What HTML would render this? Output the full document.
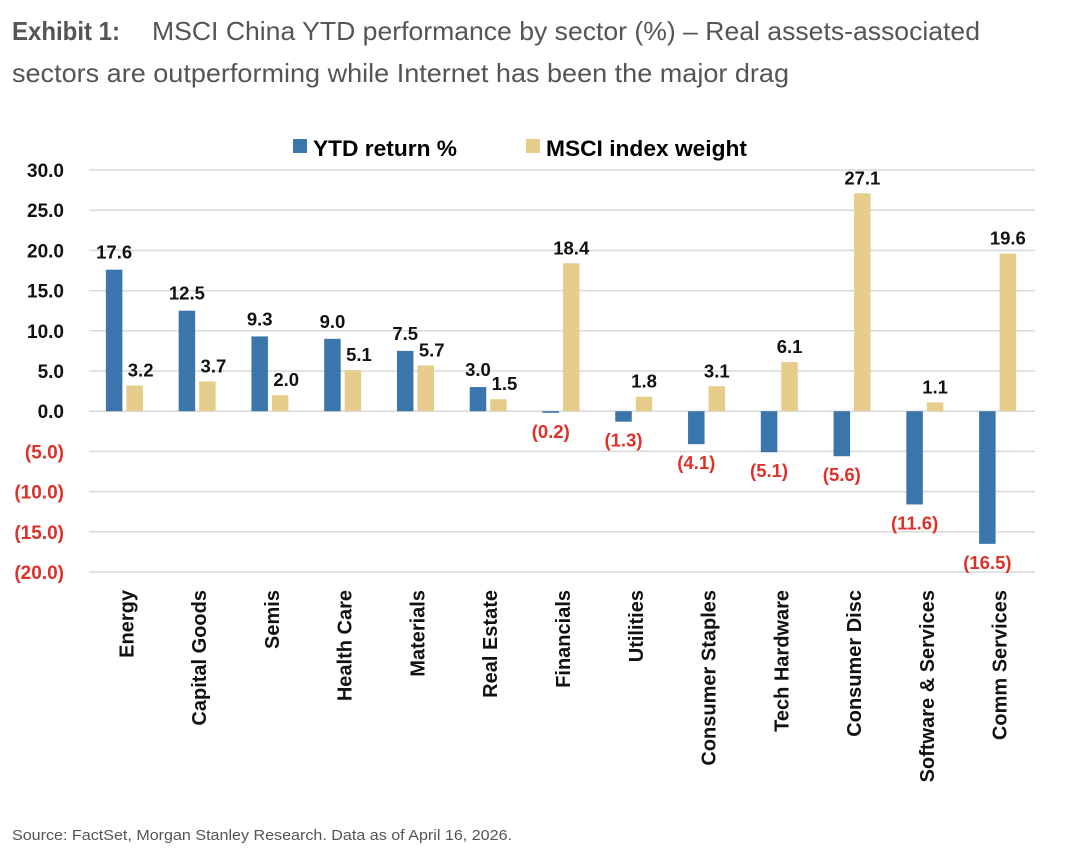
<!DOCTYPE html>
<html><head><meta charset="utf-8"><style>
body{margin:0;background:#fff;width:1080px;height:846px;overflow:hidden;font-family:"Liberation Sans",sans-serif}
</style></head><body>
<svg width="1080" height="846" xmlns="http://www.w3.org/2000/svg" id="svg">
<text x="12" y="40" font-size="26" fill="#555"><tspan font-weight="bold" textLength="108" lengthAdjust="spacingAndGlyphs">Exhibit 1:</tspan><tspan x="152" textLength="828" lengthAdjust="spacingAndGlyphs">MSCI China YTD performance by sector (%) – Real assets-associated</tspan></text>
<text x="12" y="82" font-size="26" fill="#555" textLength="777" lengthAdjust="spacingAndGlyphs">sectors are outperforming while Internet has been the major drag</text>
<g>
<rect x="293" y="139" width="14" height="14" fill="#3a75ab"/>
<text x="313" y="156" font-size="22.5" font-weight="bold" textLength="144" lengthAdjust="spacingAndGlyphs">YTD return %</text>
<rect x="526" y="139" width="14" height="14" fill="#e6cd8c"/>
<text x="546" y="156" font-size="22.5" font-weight="bold" textLength="201" lengthAdjust="spacingAndGlyphs">MSCI index weight</text>
</g>
<g id="plot"></g>
<text x="12" y="840" font-size="15" fill="#555" textLength="500" lengthAdjust="spacingAndGlyphs">Source: FactSet, Morgan Stanley Research. Data as of April 16, 2026.</text>
</svg>
<script>
const categories=["Energy","Capital Goods","Semis","Health Care","Materials","Real Estate","Financials","Utilities","Consumer Staples","Tech Hardware","Consumer Disc","Software & Services","Comm Services"];
const ytdReturn=[17.6,12.5,9.3,9.0,7.5,3.0,-0.2,-1.3,-4.1,-5.1,-5.6,-11.6,-16.5];
const indexWeight=[3.2,3.7,2.0,5.1,5.7,1.5,18.4,1.8,3.1,6.1,27.1,1.1,19.6];
const yTicks=[30,25,20,15,10,5,0,-5,-10,-15,-20];
const NS="http://www.w3.org/2000/svg";
const g=document.getElementById('plot');
const L=89,R=1035,yTop=170,yBot=572,vMax=30,vMin=-20;
const y=v=>yTop+(vMax-v)*(yBot-yTop)/(vMax-vMin);
const pitch=(R-L)/categories.length;
const xc=i=>L+pitch*(i+0.5);
function mk(t,a){const e=document.createElementNS(NS,t);for(const k in a)e.setAttribute(k,a[k]);g.appendChild(e);return e;}
const fmt=v=>v<0?"("+Math.abs(v).toFixed(1)+")":v.toFixed(1);
yTicks.forEach(t=>{
 const l=mk('line',{x1:L,x2:R,y1:y(t),y2:y(t),stroke:'#d9d9d9','stroke-width':1.5});
 
 
 const tx=mk('text',{x:64,y:y(t)+7,'text-anchor':'end','font-size':19,'font-weight':'bold',fill:t<0?'#e0302a':'#111'});
 tx.textContent=fmt(t);
 
 
});
const bw=16.5;
categories.forEach((c,i)=>{
 const cx=xc(i)-1;
 const v=ytdReturn[i], w=indexWeight[i];
 const b=mk('rect',{x:cx-bw-2,y:Math.min(y(v),y(0)),width:bw,height:Math.max(1.5,Math.abs(y(v)-y(0))),fill:'#3a75ab'});
 
 
 const b2=mk('rect',{x:cx+2,y:Math.min(y(w),y(0)),width:bw,height:Math.abs(y(w)-y(0)),fill:'#e6cd8c'});
 
 
 const lv=mk('text',{x:cx-bw/2-2,y:v>=0?y(v)-11:y(v)+25,'text-anchor':'middle','font-size':18.5,'font-weight':'bold',fill:v<0?'#e0302a':'#111'});
 lv.textContent=fmt(v);
 
 
 const lw=mk('text',{x:cx+2+bw/2+(i<6?6:0),y:y(w)-9,'text-anchor':'middle','font-size':18.5,'font-weight':'bold',fill:'#111'});
 lw.textContent=fmt(w);
 
 
 const cl=mk('text',{transform:`translate(${xc(i)+8},590) rotate(-90)`,'text-anchor':'end','font-size':20,'font-weight':'bold',fill:'#111'});
 cl.textContent=c;
 
 
});
</script>
</body></html>
